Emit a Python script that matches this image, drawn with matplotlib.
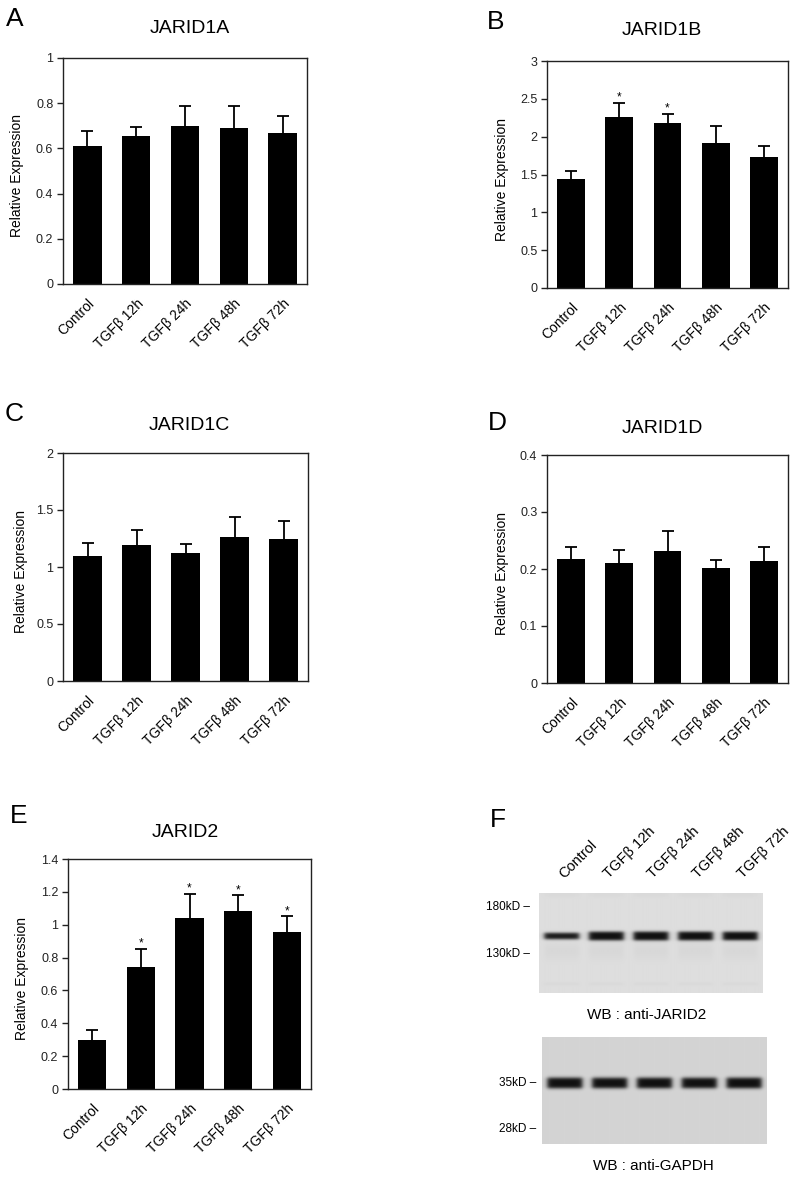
import numpy as np
import matplotlib
matplotlib.use("Agg")
import matplotlib.pyplot as plt

plt.rcParams['font.family'] = ['Liberation Sans', 'DejaVu Sans']

# data
categories = ["Control", "TGFβ 12h", "TGFβ 24h", "TGFβ 48h", "TGFβ 72h"]

jarid1a_mean = [0.61, 0.655, 0.70, 0.69, 0.67]
jarid1a_sem = [0.065, 0.041, 0.086, 0.097, 0.075]

jarid1b_mean = [1.44, 2.26, 2.18, 1.92, 1.73]
jarid1b_sem = [0.11, 0.19, 0.125, 0.22, 0.15]
jarid1b_sig = [False, True, True, False, False]

jarid1c_mean = [1.10, 1.19, 1.12, 1.265, 1.25]
jarid1c_sem = [0.11, 0.135, 0.08, 0.17, 0.15]

jarid1d_mean = [0.218, 0.210, 0.232, 0.201, 0.214]
jarid1d_sem = [0.020, 0.023, 0.034, 0.014, 0.025]

jarid2_mean = [0.30, 0.74, 1.04, 1.085, 0.955]
jarid2_sem = [0.058, 0.113, 0.15, 0.095, 0.097]
jarid2_sig = [False, True, True, True, True]

# western blot: relative band strength per lane
jarid2_band = [0.55, 0.95, 0.97, 0.95, 0.93]
gapdh_band = [0.98, 0.95, 0.97, 0.95, 0.98]
blot_markers_top = ["180kD", "130kD"]
blot_markers_bottom = ["35kD", "28kD"]

W, H = 797, 1177
fig = plt.figure(figsize=(W / 100, H / 100), dpi=100)


def px_axes(left, top, right, bottom):
    return fig.add_axes([left / W, 1 - bottom / H, (right - left) / W, (bottom - top) / H])


def bar_panel(box, title, title_xy, letter, letter_xy, mean, sem, ymax, step,
              ylabel_x, sig=None):
    ax = px_axes(*box)
    x = np.arange(len(categories))
    ax.bar(x, mean, width=0.58, color='black', zorder=2)
    # upper error bars only
    _, caps, _ = ax.errorbar(x, mean, yerr=[np.zeros(len(sem)), sem], fmt='none',
                             ecolor='black', elinewidth=1.3, capsize=4.5,
                             capthick=1.3, zorder=3)
    caps[0].set_visible(False)
    if sig is not None:
        for i, s in enumerate(sig):
            if s:
                ax.annotate('*', (i, mean[i] + sem[i]), xytext=(0, 1.5),
                            textcoords='offset points', ha='center', va='baseline',
                            fontsize=8.5)
    ax.set_xlim(-0.5, len(categories) - 0.5)
    ax.set_ylim(0, ymax)
    ticks = np.arange(0, ymax + step / 2, step)
    ax.set_yticks(ticks)
    ax.set_yticklabels(['%g' % round(t, 2) for t in ticks])
    ax.set_xticks(x)
    ax.set_xticklabels(categories, rotation=45, ha='right', rotation_mode='anchor',
                       fontsize=10)
    ax.tick_params(axis='x', length=0, pad=9)
    ax.tick_params(axis='y', direction='out', length=4, width=1, labelsize=9,
                   pad=3, colors='#222222')
    for sp in ax.spines.values():
        sp.set_linewidth(1.0)
        sp.set_color('#222222')
    ax.set_ylabel("Relative Expression", fontsize=10)
    ax.yaxis.set_label_coords((ylabel_x - box[0]) / (box[2] - box[0]), 0.48)
    fig.text(title_xy[0] / W, 1 - title_xy[1] / H, title, ha='center',
             va='baseline', fontsize=14)
    fig.text(letter_xy[0] / W, 1 - letter_xy[1] / H, letter, ha='left',
             va='baseline', fontsize=19)
    return ax


bar_panel((63, 58, 307, 284), "JARID1A", (190, 33), "A", (6, 26),
          jarid1a_mean, jarid1a_sem, 1.0, 0.2, 24)
bar_panel((547, 61, 788, 288), "JARID1B", (662, 35), "B", (487, 29),
          jarid1b_mean, jarid1b_sem, 3.0, 0.5, 509, sig=jarid1b_sig)
bar_panel((63, 453, 308, 681), "JARID1C", (189, 430), "C", (5, 421),
          jarid1c_mean, jarid1c_sem, 2.0, 0.5, 28)
bar_panel((547, 455, 788, 683), "JARID1D", (662, 433), "D", (488, 430),
          jarid1d_mean, jarid1d_sem, 0.4, 0.1, 509)
bar_panel((68, 859, 311, 1089), "JARID2", (185, 837), "E", (10, 823),
          jarid2_mean, jarid2_sem, 1.4, 0.2, 29, sig=jarid2_sig)


def lane_profile(xx, c, hw=0.39, e=0.06):
    return 0.5 * (np.tanh((xx - (c - hw)) / e) - np.tanh((xx - (c + hw)) / e))


def blot_image(strengths, nrows, band_y, band_sig, bg, extras=()):
    xx = np.linspace(0, 5, 240)
    yy = np.arange(nrows) + 0.5
    X, Y = np.meshgrid(xx, yy)
    dark = np.zeros_like(X)
    for i, s in enumerate(strengths):
        lp = lane_profile(X, i + 0.5)
        sg = band_sig * (0.7 + 0.4 * s)
        g = np.exp(-((Y - band_y) / sg) ** 2)
        dark += lp * (1 - np.exp(-5 * s * g))
        for (ey, es, ea) in extras:
            dark += lp * ea * np.exp(-((Y - ey) / es) ** 2)
    dark = np.clip(dark, 0, 1)
    return bg - (bg - 15) * dark


# blot F, JARID2
axb1 = px_axes(539, 893, 763, 993)
img1 = blot_image(jarid2_band, 100, 43, 2.8, 222,
                  extras=((58, 9, 0.03), (91, 1.8, 0.025), (2, 2.5, 0.02)))
axb1.imshow(img1, cmap='gray', vmin=0, vmax=255, extent=(0, 5, 100, 0),
            aspect='auto', interpolation='bicubic')
axb1.set_xlim(0, 5)
axb1.set_ylim(100, 0)
axb1.axis('off')
for lab, yy in zip(blot_markers_top, [14, 61]):
    axb1.text(-0.2, yy, lab + " –", ha='right', va='center', fontsize=8.5,
              clip_on=False)
for i, lab in enumerate(categories):
    axb1.text(i + 0.6, -12, lab, rotation=45, ha='left', va='bottom',
              rotation_mode='anchor', fontsize=10.5, clip_on=False)
fig.text(647 / W, 1 - 1015 / H, "WB : anti-JARID2", ha='center', va='center',
         fontsize=11)
fig.text(490 / W, 1 - 827 / H, "F", ha='left', va='baseline', fontsize=19)

# blot F, GAPDH
axb2 = px_axes(542, 1037, 766, 1144)
img2 = blot_image(gapdh_band, 107, 46, 3.4, 212)
axb2.imshow(img2, cmap='gray', vmin=0, vmax=255, extent=(0, 5, 107, 0),
            aspect='auto', interpolation='bicubic')
axb2.set_xlim(0, 5)
axb2.set_ylim(107, 0)
axb2.axis('off')
for lab, yy in zip(blot_markers_bottom, [46, 92]):
    axb2.text(-0.12, yy, lab + " –", ha='right', va='center', fontsize=8.5,
              clip_on=False)
fig.text(653 / W, 1 - 1166 / H, "WB : anti-GAPDH", ha='center', va='center',
         fontsize=11)

fig.savefig("out.png", dpi=100, facecolor='white')
